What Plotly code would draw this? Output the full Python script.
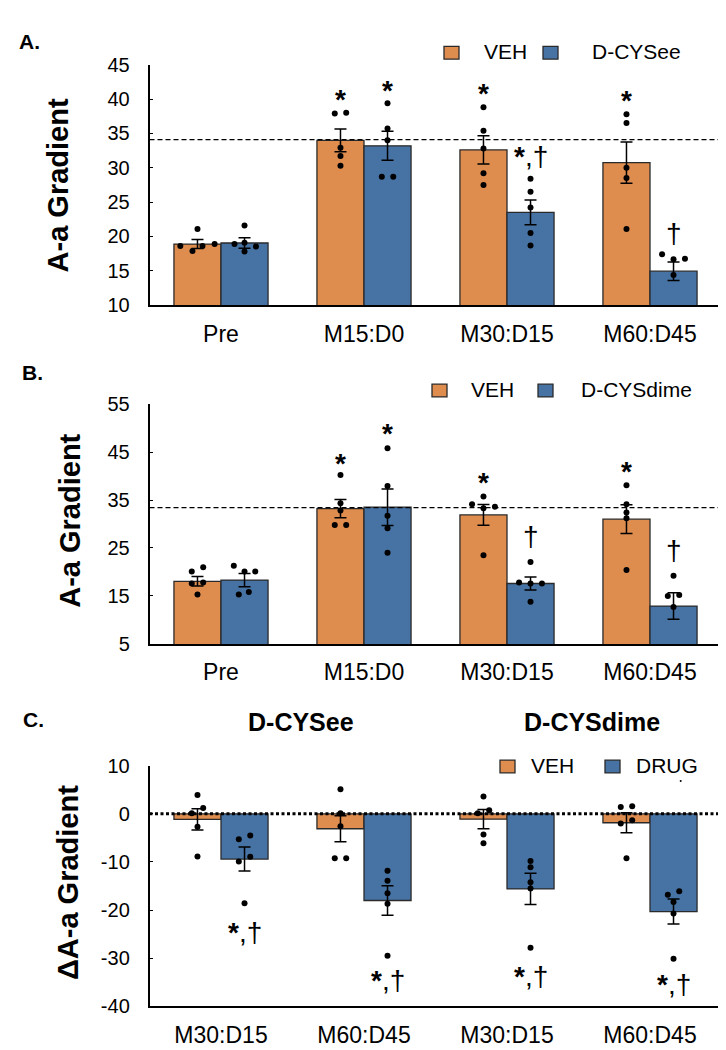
import plotly.graph_objects as go

# ---------------- data ----------------
categories_ab = ["Pre", "M15:D0", "M30:D15", "M60:D45"]
categories_c = ["M30:D15", "M60:D45", "M30:D15", "M60:D45"]
c_group_titles = ["D-CYSee", "D-CYSdime"]

# Panel A (VEH vs D-CYSee)
a_names = ["VEH", "D-CYSee"]
a_veh_mean = [18.9, 34.0, 32.6, 30.75]
a_veh_sem = [0.65, 1.65, 2.05, 3.0]
a_drug_mean = [19.05, 33.2, 23.5, 14.95]
a_drug_sem = [0.75, 2.1, 1.8, 1.35]
a_veh_points = [[21.1, 18.6, 17.9, 18.6, 18.9], [37.9, 38.0, 32.9, 31.7, 30.3],
                [38.8, 35.4, 32.8, 29.2, 27.5], [37.8, 36.5, 30.0, 28.5, 21.1]]
a_drug_points = [[21.6, 18.9, 19.1, 17.8, 18.55], [39.4, 35.7, 34.0, 28.7, 28.7],
                 [28.4, 26.5, 24.2, 20.5, 18.7], [17.4, 16.7, 16.75, 14.4]]
a_reference = 34.1
a_veh_sig = ["", "*", "*", "*"]
a_veh_sig_y = [None, 41.0, 41.9, 40.8]
a_drug_sig = ["", "*", "*,†", "†"]
a_drug_sig_y = [None, 42.2, 31.7, 20.5]
a_ticks = [10, 15, 20, 25, 30, 35, 40, 45]

# Panel B (VEH vs D-CYSdime)
b_names = ["VEH", "D-CYSdime"]
b_veh_mean = [18.05, 33.2, 31.9, 31.0]
b_veh_sem = [1.0, 1.9, 2.15, 3.0]
b_drug_mean = [18.3, 33.5, 17.6, 12.9]
b_drug_sem = [1.4, 3.8, 1.35, 2.75]
b_veh_points = [[20.1, 21.0, 17.6, 17.8, 15.3], [40.2, 34.3, 32.8, 29.8, 29.8],
                [35.75, 34.1, 33.6, 33.3, 23.5], [38.1, 34.1, 32.4, 31.2, 20.4]]
b_drug_points = [[21.3, 20.1, 20.1, 15.3, 15.8], [45.8, 37.9, 31.7, 29.1, 24.0],
                 [22.1, 17.8, 17.6, 17.6, 13.8], [19.2, 15.0, 15.2, 12.7]]
b_reference = 33.4
b_veh_sig = ["", "*", "*", "*"]
b_veh_sig_y = [None, 44.1, 40.2, 42.4]
b_drug_sig = ["", "*", "†", "†"]
b_drug_sig_y = [None, 50.4, 27.4, 24.4]
b_ticks = [5, 15, 25, 35, 45, 55]

# Panel C (change from baseline, VEH vs DRUG)
c_names = ["VEH", "DRUG"]
c_veh_mean = [-1.15, -3.1, -1.1, -1.85]
c_veh_sem = [2.2, 2.7, 2.0, 2.1]
c_drug_mean = [-9.4, -18.0, -15.6, -20.3]
c_drug_sem = [2.5, 3.05, 3.25, 2.6]
c_veh_points = [[3.9, 0.1, 1.2, -2.7, -8.85], [5.1, 0.1, -2.6, -9.2, -9.2],
                [3.6, 0.1, 0.75, -4.3, -6.1], [1.4, 1.6, -2.0, -1.35, -9.2]]
c_drug_points = [[-5.3, -4.5, -9.9, -8.9, -18.6], [-11.8, -13.9, -16.5, -18.7, -29.5],
                 [-9.8, -11.1, -14.2, -15.5, -27.8], [-16.8, -16.1, -18.3, -20.7, -30.1]]
c_stray_point = [6.8]
c_reference = 0
c_drug_sig = ["*,†", "*,†", "*,†", "*,†"]
c_drug_sig_y = [-24.6, -34.7, -33.7, -35.4]
c_ticks = [-40, -30, -20, -10, 0, 10]
c_tick_labels = ["-40", "-30", "-20", "-10", "0", "10"]

# ---------------- style ----------------
# horizontal jitter of the individual dots (category units)
a_veh_jit = [[0, -0.12, -0.035, 0.035, 0.12], [-0.04, 0.04, 0, 0, 0], [0] * 5, [0] * 5]
a_drug_jit = [[0, -0.07, 0, 0, 0.08], [0, 0, 0, -0.04, 0.04], [0] * 5, [-0.08, 0, 0.08, 0]]
b_veh_jit = [[-0.04, 0.04, -0.04, 0.04, 0], [0, 0, 0, -0.04, 0.04], [0, -0.08, 0.08, 0, 0], [0] * 5]
b_drug_jit = [[-0.075, 0, 0.075, -0.04, 0.03], [0] * 5, [0, -0.08, 0, 0.08, 0], [0, -0.04, 0.04, 0]]
c_veh_jit = [[0, -0.04, 0.04, 0, 0], [0, 0, 0, -0.04, 0.04], [0, -0.04, 0.04, 0, 0], [-0.04, 0.04, -0.04, 0.04, 0]]
c_drug_jit = [[-0.04, 0.04, -0.04, 0.04, 0], [0] * 5, [0] * 5, [-0.04, 0.04, 0, 0, 0]]

ORANGE = "#DE8D4E"
BLUE = "#4673A4"
EDGE = "#2a2a2a"
FONT = "Liberation Sans, Arial, sans-serif"
W, H = 726, 1050
BARGAP = 0.342
OFF = (1 - BARGAP) / 4  # centre offset of each bar in a 2-bar group

X0, X1 = 141.5, 713.5
panels = {
    "A": dict(top=46.7, bottom=292.3),
    "B": dict(top=393.3, bottom=638.3),
    "C": dict(top=762.7, bottom=1008.5),
}
# manual legend geometry (pixels): swatch left, swatch centre y, text left positions
legend_geo = {
    "A": dict(y=34.5, sw=[436, 535], tx=[474, 582]),
    "B": dict(y=379.5, sw=[424, 530], tx=[461, 571]),
    "C": dict(y=763.5, sw=[492, 597], tx=[521, 626]),
}


def ydom(p):
    return [1 - panels[p]["bottom"] / H, 1 - panels[p]["top"] / H]


fig = go.Figure()
shapes = []
annotations = []


def add_panel(idx, names, means, sems, points, jits):
    xa = "x" if idx == 1 else f"x{idx}"
    ya = "y" if idx == 1 else f"y{idx}"
    colors = [ORANGE, BLUE]
    for k in range(2):
        fig.add_trace(go.Bar(
            x=list(range(4)), y=means[k], name=names[k],
            marker=dict(color=colors[k], line=dict(color=EDGE, width=1.3)),
            error_y=dict(type="data", array=sems[k], color="black", thickness=1.5, width=6),
            xaxis=xa, yaxis=ya, showlegend=False, offsetgroup=str(k),
        ))
    for k in range(2):
        sign = -1 if k == 0 else 1
        xs, ys = [], []
        for i, (vals, jit) in enumerate(zip(points[k], jits[k])):
            for v, j in zip(vals, jit):
                xs.append(i + sign * OFF + j)
                ys.append(v)
        fig.add_trace(go.Scatter(
            x=xs, y=ys, mode="markers", name=names[k] + " individual",
            marker=dict(color="black", size=6),
            xaxis=xa, yaxis=ya, showlegend=False, hoverinfo="y",
        ))


def add_legend(p, names):
    g = legend_geo[p]
    for k, col in enumerate([ORANGE, BLUE]):
        x0 = g["sw"][k]
        shapes.append(dict(type="rect", xref="paper", yref="paper",
                           x0=x0 / W, x1=(x0 + 15) / W,
                           y0=1 - (g["y"] + 6.5) / H, y1=1 - (g["y"] - 6.5) / H,
                           fillcolor=col, line=dict(color=EDGE, width=1.3)))
        annotations.append(dict(x=g["tx"][k] / W, y=1 - (g["y"] - 1.5) / H, xref="paper", yref="paper",
                                text=names[k], showarrow=False, xanchor="left", yanchor="middle",
                                font=dict(family=FONT, size=21, color="black")))


add_panel(1, a_names, [a_veh_mean, a_drug_mean], [a_veh_sem, a_drug_sem],
          [a_veh_points, a_drug_points], [a_veh_jit, a_drug_jit])
add_panel(2, b_names, [b_veh_mean, b_drug_mean], [b_veh_sem, b_drug_sem],
          [b_veh_points, b_drug_points], [b_veh_jit, b_drug_jit])
add_panel(3, c_names, [c_veh_mean, c_drug_mean], [c_veh_sem, c_drug_sem],
          [c_veh_points, c_drug_points], [c_veh_jit, c_drug_jit])
add_legend("A", a_names)
add_legend("B", b_names)
add_legend("C", c_names)

# stray dot in panel C
fig.add_trace(go.Scatter(x=[3 + OFF + 0.05], y=c_stray_point, mode="markers",
                         marker=dict(color="black", size=2), xaxis="x3", yaxis="y3",
                         showlegend=False, hoverinfo="skip"))

xdom = [X0 / W, X1 / W]
common_x = dict(domain=xdom, range=[-0.5, 3.5], showline=True, linecolor="black", linewidth=1.5,
                ticks="", showgrid=False, zeroline=False, tickfont=dict(family=FONT, size=23, color="black"),
                ticklabelstandoff=7, fixedrange=True)
common_y = dict(showline=True, linecolor="black", linewidth=1.5, ticks="inside", ticklen=4,
                tickcolor="black", showgrid=False, zeroline=False,
                tickfont=dict(family=FONT, size=20, color="black"), ticklabelstandoff=14,
                fixedrange=True)

fig.update_layout(
    width=W, height=H, margin=dict(l=0, r=0, t=0, b=0),
    paper_bgcolor="white", plot_bgcolor="white",
    barmode="group", bargap=BARGAP, bargroupgap=0, showlegend=False,
    font=dict(family=FONT, color="black"),
    xaxis=dict(common_x, anchor="y", tickvals=list(range(4)), ticktext=categories_ab),
    xaxis2=dict(common_x, anchor="y2", tickvals=list(range(4)), ticktext=categories_ab),
    xaxis3=dict(common_x, anchor="y3", tickvals=list(range(4)), ticktext=categories_c),
    yaxis=dict(common_y, anchor="x", domain=ydom("A"), range=[10, 45], tickvals=a_ticks),
    yaxis2=dict(common_y, anchor="x2", domain=ydom("B"), range=[5, 55], tickvals=b_ticks),
    yaxis3=dict(common_y, anchor="x3", domain=ydom("C"), range=[-40, 10], tickvals=c_ticks,
                ticktext=c_tick_labels),
)

# reference lines
shapes.append(dict(type="line", xref="x domain", yref="y", x0=0, x1=1, y0=a_reference, y1=a_reference,
                   line=dict(color="black", width=1.3, dash="5px,3px")))
shapes.append(dict(type="line", xref="x2 domain", yref="y2", x0=0, x1=1, y0=b_reference, y1=b_reference,
                   line=dict(color="black", width=1.3, dash="5px,3px")))
shapes.append(dict(type="line", xref="x3 domain", yref="y3", x0=0, x1=1, y0=c_reference, y1=c_reference,
                   line=dict(color="black", width=3, dash="3px,2.5px")))


def sig(xref, yref, labels, ys, sign):
    for i, (t, yv) in enumerate(zip(labels, ys)):
        if not t:
            continue
        star_only = t == "*"
        txt = t.replace("*", "<b>*</b>")
        annotations.append(dict(
            x=i + sign * OFF, y=yv, xref=xref, yref=yref, text=txt, showarrow=False,
            font=dict(family=FONT, size=28, color="black"), xanchor="center", yanchor="middle",
            yshift=-7 if star_only else 0,
        ))


sig("x", "y", a_veh_sig, a_veh_sig_y, -1)
sig("x", "y", a_drug_sig, a_drug_sig_y, 1)
sig("x2", "y2", b_veh_sig, b_veh_sig_y, -1)
sig("x2", "y2", b_drug_sig, b_drug_sig_y, 1)
sig("x3", "y3", c_drug_sig, c_drug_sig_y, 1)

# panel letters
for letter, (px, py) in {"A.": (21, 23), "B.": (24, 361), "C.": (25, 715)}.items():
    annotations.append(dict(x=px / W, y=1 - py / H, xref="paper", yref="paper", text=f"<b>{letter}</b>",
                            showarrow=False, xanchor="center", yanchor="middle",
                            font=dict(family=FONT, size=21, color="black")))

# y-axis titles
for title, (px, py) in [("A-a Gradient", (50, 170)), ("A-a Gradient", (62, 512.5)),
                        ("ΔA-a Gradient", (60, 882.5))]:
    annotations.append(dict(x=px / W, y=1 - py / H, xref="paper", yref="paper", text=f"<b>{title}</b>",
                            textangle=-90, showarrow=False, xanchor="center", yanchor="middle",
                            font=dict(family=FONT, size=29, color="black")))

# group titles of panel C
for title, px in zip(c_group_titles, [293, 584]):
    annotations.append(dict(x=px / W, y=1 - 718 / H, xref="paper", yref="paper", text=f"<b>{title}</b>",
                            showarrow=False, xanchor="center", yanchor="middle",
                            font=dict(family=FONT, size=25, color="black")))

fig.update_layout(annotations=annotations, shapes=shapes)

fig.write_html("out.html")
